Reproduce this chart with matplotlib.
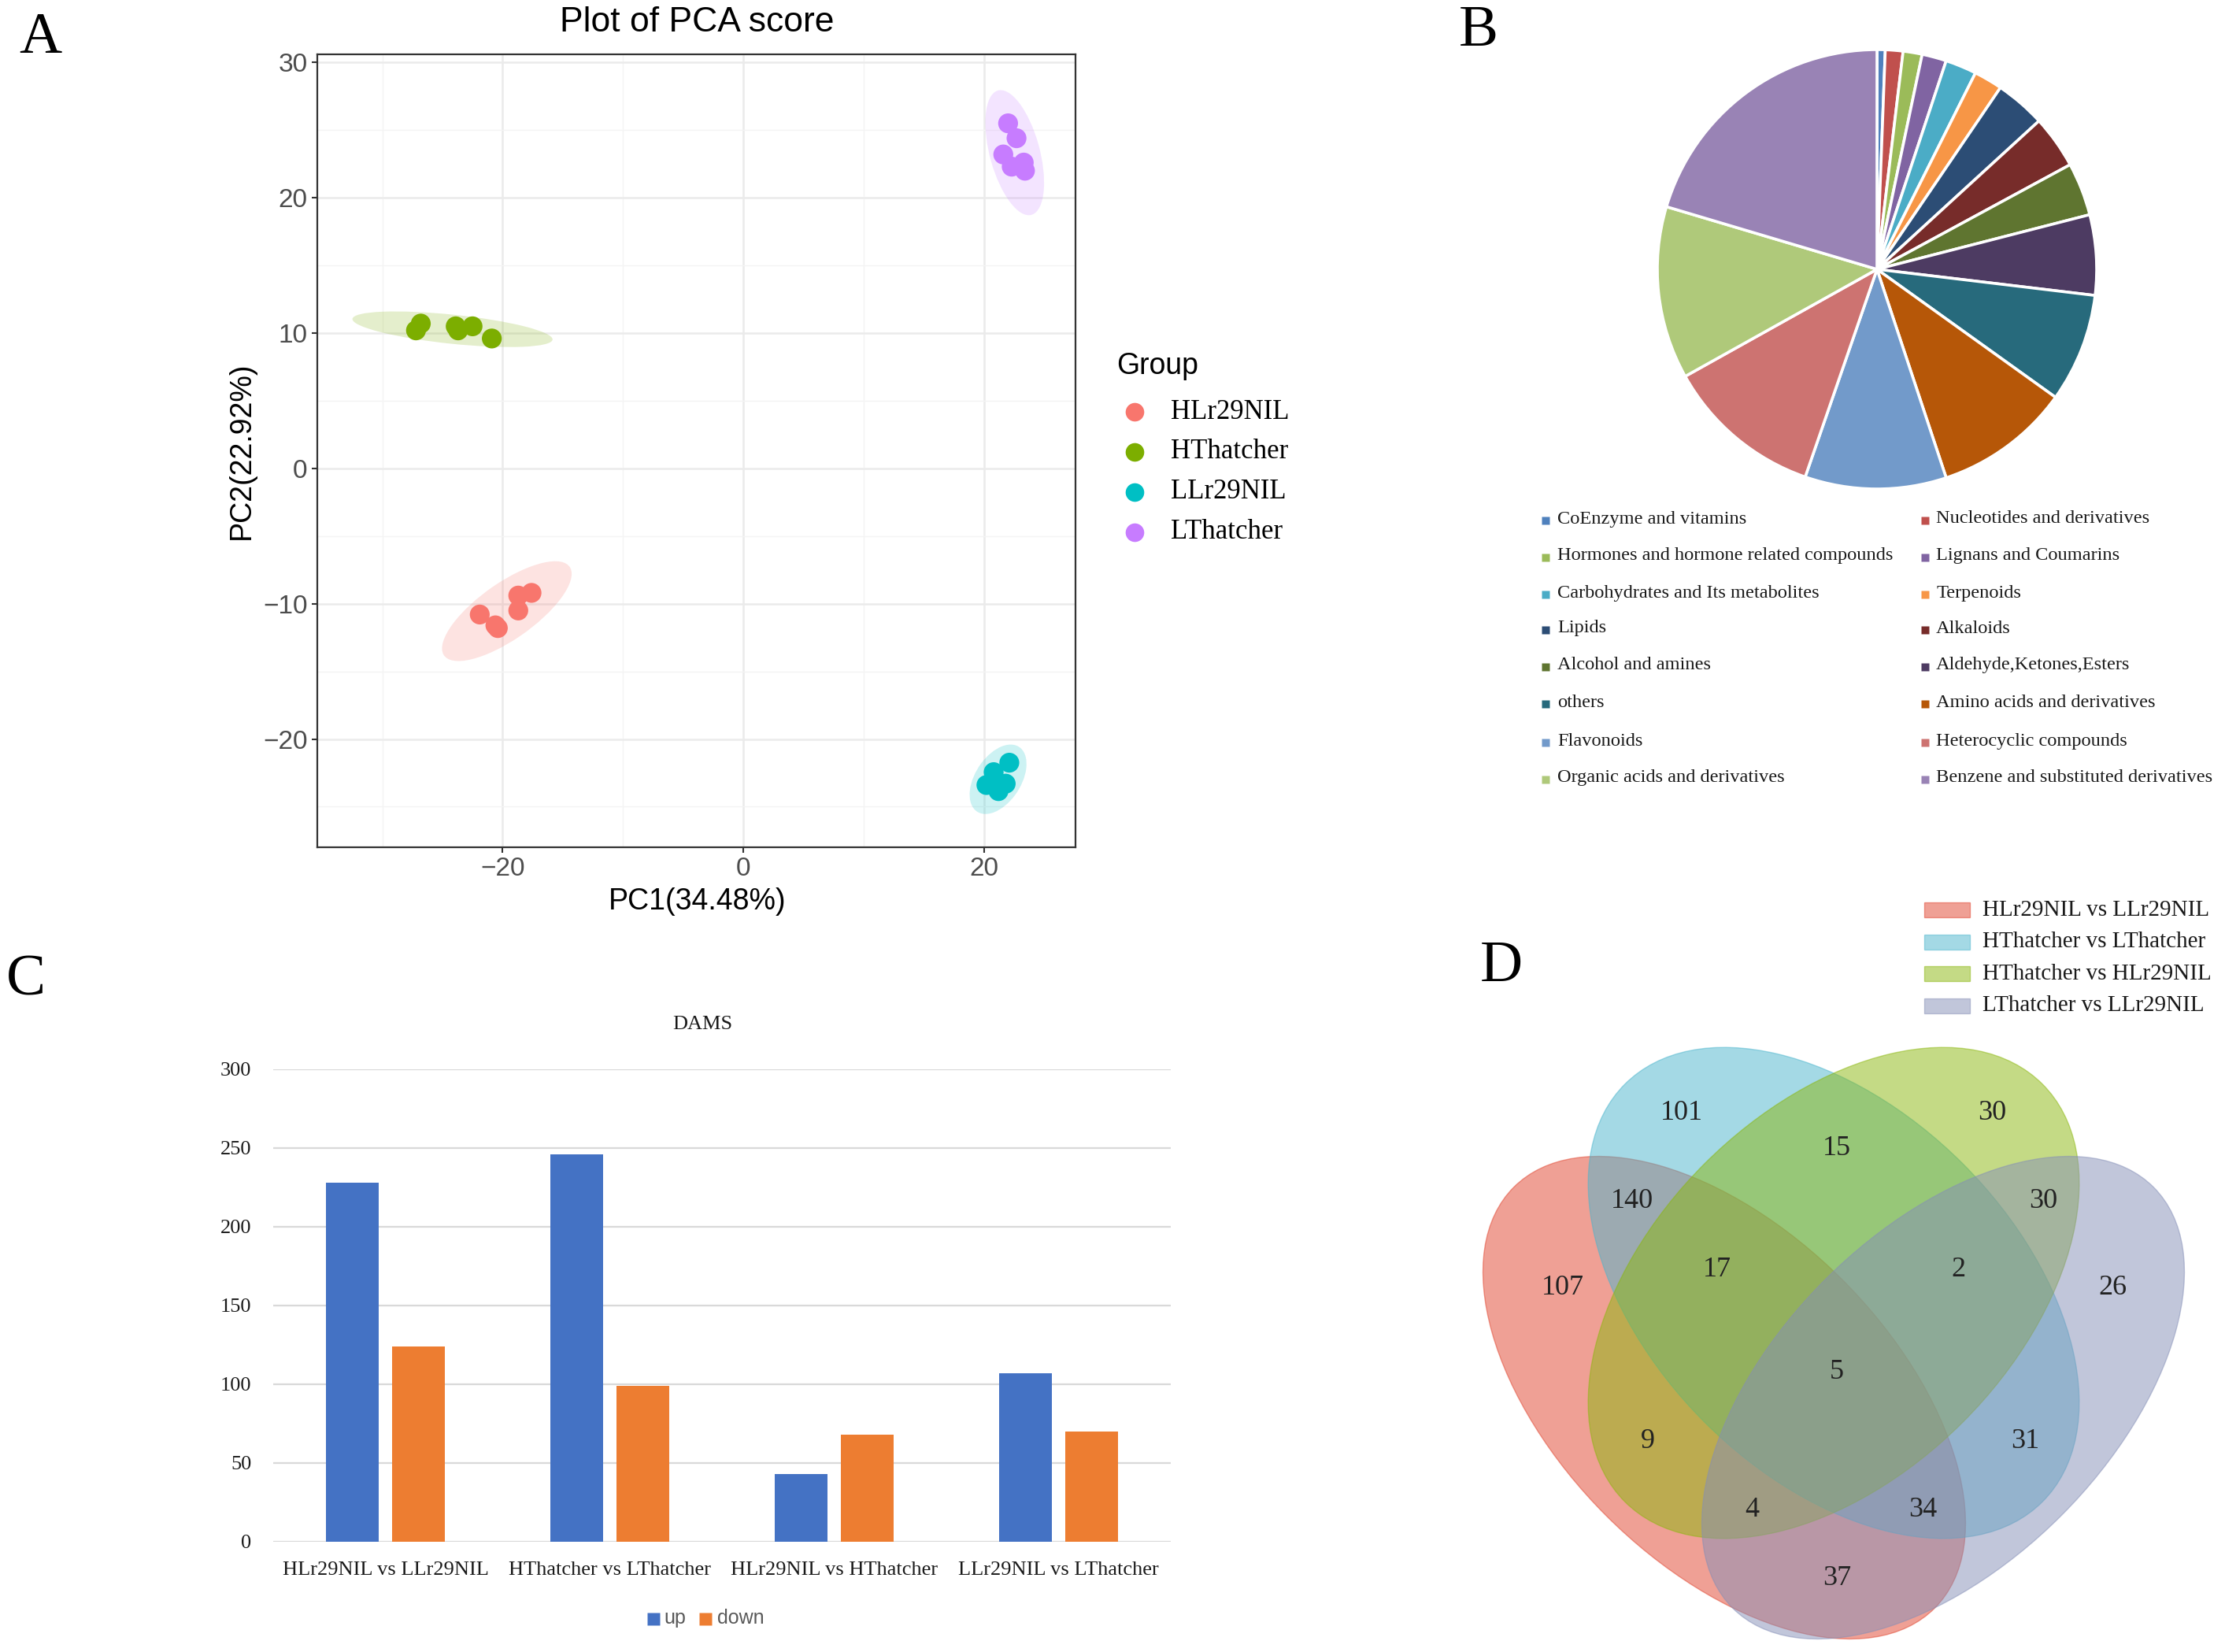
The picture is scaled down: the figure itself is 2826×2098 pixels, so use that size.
import numpy as np
import matplotlib
matplotlib.use("Agg")
import matplotlib.pyplot as plt
from matplotlib.patches import Ellipse, Rectangle
from matplotlib.lines import Line2D

W, H = 2826, 2098
DPI = 100
SANS = ["Liberation Sans", "DejaVu Sans"]
SERIF = ["Liberation Serif", "DejaVu Serif"]

# ---------------- data: A (PCA) ----------------
pca_groups = ["HLr29NIL", "HThatcher", "LLr29NIL", "LThatcher"]
pca_colors = ["#F8766D", "#7CAE00", "#00BFC4", "#C77CFF"]
pc1_HLr29NIL = [-21.9, -20.6, -20.4, -18.7, -18.7, -17.6]
pc2_HLr29NIL = [-10.8, -11.6, -11.8, -10.5, -9.4, -9.2]
pc1_HThatcher = [-27.2, -26.8, -23.9, -23.7, -22.5, -20.9]
pc2_HThatcher = [10.2, 10.7, 10.5, 10.2, 10.5, 9.6]
pc1_LLr29NIL = [22.1, 20.8, 20.2, 21.8, 21.2, 20.9]
pc2_LLr29NIL = [-21.75, -22.45, -23.4, -23.3, -23.85, -23.1]
pc1_LThatcher = [22.0, 22.7, 21.6, 22.3, 23.3, 23.4]
pc2_LThatcher = [25.5, 24.4, 23.2, 22.3, 22.6, 22.0]
pc1_label = "PC1(34.48%)"
pc2_label = "PC2(22.92%)"

# ---------------- data: B (pie) ----------------
class_names = ["CoEnzyme and vitamins", "Nucleotides and derivatives",
               "Hormones and hormone related compounds", "Lignans and Coumarins",
               "Carbohydrates and Its metabolites", "Terpenoids",
               "Lipids", "Alkaloids",
               "Alcohol and amines", "Aldehyde,Ketones,Esters",
               "others", "Amino acids and derivatives",
               "Flavonoids", "Heterocyclic compounds",
               "Organic acids and derivatives", "Benzene and substituted derivatives"]
class_share = [0.6, 1.3, 1.4, 1.8, 2.3, 2.1, 3.7, 3.9, 3.9, 5.9, 8.0, 10.0, 10.4, 11.6, 12.7, 20.4]
class_colors = ["#4F81BD", "#C0504D", "#9BBB59", "#8064A2", "#4BACC6", "#F79646",
                "#2C4D75", "#772C2A", "#5F7530", "#4D3B62", "#276A7C", "#B65708",
                "#729ACA", "#CD7371", "#AFC97A", "#9983B5"]

# ---------------- data: C (bars) ----------------
comparisons = ["HLr29NIL vs LLr29NIL", "HThatcher vs LThatcher",
               "HLr29NIL vs HThatcher", "LLr29NIL vs LThatcher"]
up_counts = [228, 246, 43, 107]
down_counts = [124, 99, 68, 70]
bar_yticks = [0, 50, 100, 150, 200, 250, 300]

# ---------------- data: D (Venn) ----------------
venn_sets = ["HLr29NIL vs LLr29NIL", "HThatcher vs LThatcher",
             "HThatcher vs HLr29NIL", "LThatcher vs LLr29NIL"]
venn_colors = ["#E1432D", "#4BB5CD", "#8BB70D", "#858FB7"]
venn_counts = [101, 30, 15, 140, 30, 107, 17, 2, 26, 5, 9, 31, 4, 34, 37]

fig = plt.figure(figsize=(W / DPI, H / DPI), dpi=DPI)
fig.patch.set_facecolor("white")


def px(x, y):
    return x / W, 1 - y / H


# ================= Panel A =================
L, R, T, B = 403, 1366, 69, 1076
axA = fig.add_axes([L / W, 1 - B / H, (R - L) / W, (B - T) / H])
axA.set_xlim(-35.4, 27.6)
axA.set_ylim(-28.0, 30.6)
axA.set_xticks([-20, 0, 20])
axA.set_yticks([-20, -10, 0, 10, 20, 30])
axA.set_xticks([-30, -10, 10], minor=True)
axA.set_yticks([-25, -15, -5, 5, 15, 25], minor=True)
axA.grid(which="major", color="#EBEBEB", lw=1.8, zorder=0)
axA.grid(which="minor", color="#F4F4F4", lw=1.0, zorder=0)
axA.set_axisbelow(True)
for s in axA.spines.values():
    s.set_color("#333333")
    s.set_linewidth(1.6)
axA.tick_params(which="major", length=5, width=1.5, color="#333333",
                labelsize=24, labelcolor="#4D4D4D", pad=4)
axA.tick_params(which="minor", length=0)
for lab in axA.get_xticklabels() + axA.get_yticklabels():
    lab.set_fontfamily(SANS)

pcs = [(pc1_HLr29NIL, pc2_HLr29NIL), (pc1_HThatcher, pc2_HThatcher),
       (pc1_LLr29NIL, pc2_LLr29NIL), (pc1_LThatcher, pc2_LThatcher)]


def conf_ellipse(x, y, color):
    x = np.asarray(x, float)
    y = np.asarray(y, float)
    n = len(x)
    cov = np.cov(x, y)
    vals, vecs = np.linalg.eigh(cov)
    dfd = n - 1
    F = (dfd / 2.0) * (0.05 ** (-2.0 / dfd) - 1.0)  # qf(0.95, 2, n-1)
    r = np.sqrt(2 * F)
    width = 2 * r * np.sqrt(vals[1])
    height = 2 * r * np.sqrt(vals[0])
    angle = np.degrees(np.arctan2(vecs[1, 1], vecs[0, 1]))
    return Ellipse((x.mean(), y.mean()), width, height, angle=angle,
                   facecolor=color, alpha=0.2, edgecolor="none", zorder=2)


for (x, y), c in zip(pcs, pca_colors):
    axA.add_patch(conf_ellipse(x, y, c))
    axA.scatter(x, y, s=330, color=c, edgecolors="none", zorder=3)

fig.text(*px(885, 29), "Plot of PCA score", ha="center", va="center",
         fontsize=32, family=SANS)
fig.text(*px(886, 1145), pc1_label, ha="center", va="center", fontsize=27, family=SANS)
fig.text(*px(307, 572), pc2_label, ha="center", va="center", fontsize=27,
         family=SANS, rotation=90)

# legend A
fig.text(*px(1418, 465), "Group", ha="left", va="center", fontsize=27, family=SANS)
for i, (g, c) in enumerate(zip(pca_groups, pca_colors)):
    yy = 523 + i * 51
    fig.add_artist(Line2D([1441 / W], [1 - yy / H], marker="o", markersize=17,
                          color=c, markeredgecolor="none", linestyle="none",
                          transform=fig.transFigure))
    fig.text(*px(1487, yy), g, ha="left", va="center", fontsize=25, family=SERIF)

# ================= Panel B =================
cx, cy, rr = 2384, 342, 279
axB = fig.add_axes([(cx - rr) / W, 1 - (cy + rr) / H, 2 * rr / W, 2 * rr / H])
axB.pie(class_share, colors=class_colors, startangle=90, counterclock=False,
        radius=1.0, wedgeprops=dict(edgecolor="white", linewidth=2.6))
axB.set_xlim(-1, 1)
axB.set_ylim(-1, 1)
axB.set_aspect("equal")
axB.axis("off")

rows_y = [659, 706, 753, 798, 845, 892, 941, 988]
for i, (name, c) in enumerate(zip(class_names, class_colors)):
    col = i % 2
    row = i // 2
    mx = 1963 if col == 0 else 2445
    tx = 1978 if col == 0 else 2459
    yy = rows_y[row]
    fig.add_artist(Line2D([mx / W], [1 - (yy + 2) / H], marker="s", markersize=7,
                          color=c, markeredgecolor="none", linestyle="none",
                          transform=fig.transFigure))
    fig.text(*px(tx, yy), name, ha="left", va="center", fontsize=17.6,
             family=SERIF, color="#1A1A1A")

# ================= Panel C =================
L, R, T, B = 347, 1487, 1358, 1958
axC = fig.add_axes([L / W, 1 - B / H, (R - L) / W, (B - T) / H])
xs = np.arange(len(comparisons))
bw = 0.235
axC.bar(xs - 0.148, up_counts, width=bw, color="#4472C4", zorder=3, label="up")
axC.bar(xs + 0.148, down_counts, width=bw, color="#ED7D31", zorder=3, label="down")
axC.set_xlim(-0.5, len(comparisons) - 0.5)
axC.set_ylim(0, 300)
axC.set_yticks(bar_yticks)
axC.set_xticks(xs)
axC.set_xticklabels(comparisons)
for yv in bar_yticks:
    axC.axhline(yv, color="#D9D9D9", lw=1.6, zorder=1)
for s in axC.spines.values():
    s.set_visible(False)
axC.tick_params(axis="both", length=0, labelsize=19, labelcolor="#1A1A1A")
axC.tick_params(axis="y", pad=20)
axC.tick_params(axis="x", pad=18)
for lab in axC.get_xticklabels() + axC.get_yticklabels():
    lab.set_fontfamily(SERIF)
fig.text(*px(892, 1301), "DAMS", ha="center", va="center", fontsize=19,
         family=SERIF, color="#1A1A1A")
# legend C
for mx, tx, lab, c in [(830, 843, "up", "#4472C4"), (896, 911, "down", "#ED7D31")]:
    fig.add_artist(Line2D([mx / W], [1 - 2056 / H], marker="s", markersize=11.5,
                          color=c, markeredgecolor="none", linestyle="none",
                          transform=fig.transFigure))
    fig.text(*px(tx, 2055), lab, ha="left", va="center", fontsize=18,
             family=SANS, color="#595959")

# ================= Panel D =================
axD = fig.add_axes([1850 / W, 0, 976 / W, 998 / H])
axD.set_xlim(1850, 2826)
axD.set_ylim(2098, 1100)
axD.axis("off")
venn_geom = [((2190, 1775), 756, 424, 45),
             ((2329, 1642), 750, 464, 45),
             ((2329, 1642), 750, 464, -45),
             ((2468, 1775), 756, 424, -45)]
for (ctr, w, h, ang), c in zip(venn_geom, venn_colors):
    axD.add_patch(Ellipse(ctr, w, h, angle=ang, facecolor=c, alpha=0.5,
                          edgecolor=c, linewidth=1.0))
venn_pos = [(2136, 1414), (2530, 1414), (2333, 1459), (2073, 1526), (2595, 1526),
            (1985, 1636), (2181, 1613), (2487, 1613), (2683, 1636), (2333, 1743),
            (2093, 1831), (2572, 1831), (2225, 1918), (2442, 1918), (2333, 2005)]
for (x, y), n in zip(venn_pos, venn_counts):
    axD.text(x, y, str(n), ha="center", va="center", fontsize=26,
             family=SERIF, color="#222222")
for i, (name, c) in enumerate(zip(venn_sets, venn_colors)):
    yy = 1156 + i * 40.5
    axD.add_patch(Rectangle((2444, yy - 9.5), 58, 19, facecolor=c, alpha=0.5,
                            edgecolor=c, linewidth=1.0))
    axD.text(2518, yy, name, ha="left", va="center", fontsize=21,
             family=SERIF, color="#1A1A1A")

# panel letters
for (x, y), t in [((51, 49), "A"), ((1878, 40), "B"), ((33, 1246), "C"), ((1907, 1228), "D")]:
    fig.text(*px(x, y), t, ha="center", va="center", fontsize=54, family=SERIF)

fig.savefig("out.png", dpi=DPI, facecolor="white")
